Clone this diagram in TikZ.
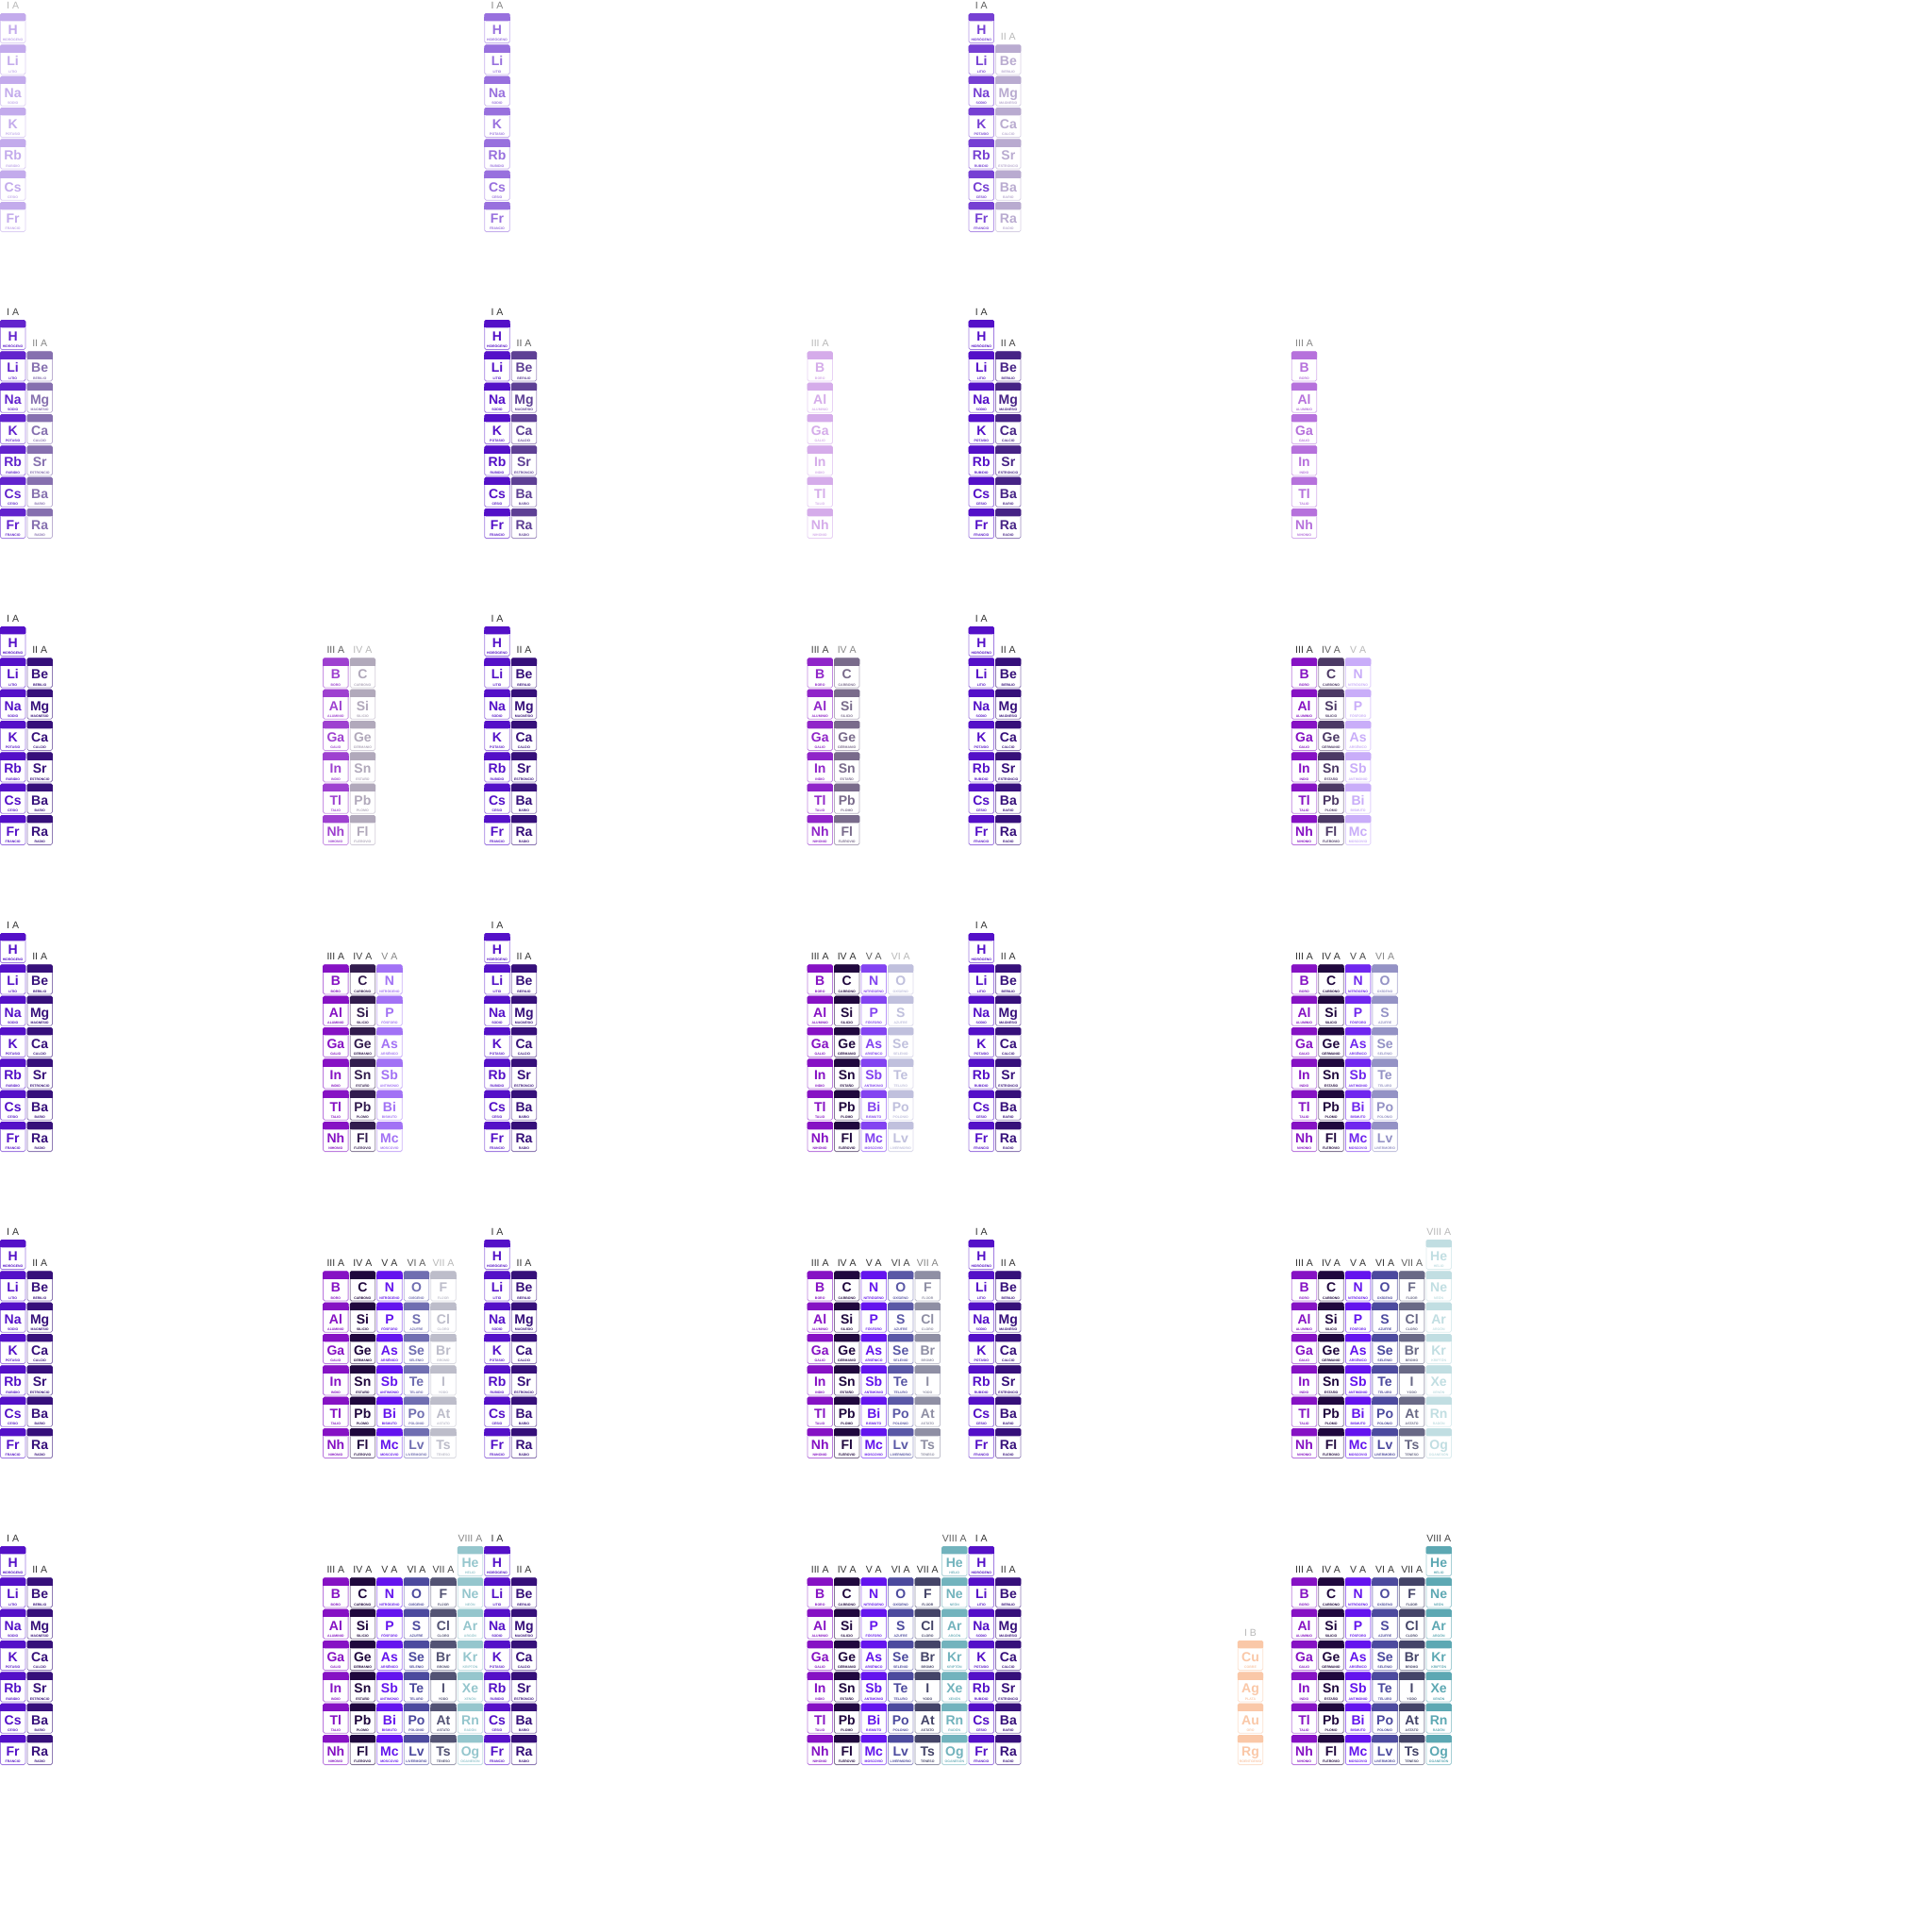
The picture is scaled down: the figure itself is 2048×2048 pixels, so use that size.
\documentclass[tikz,border=0pt]{standalone}
\usepackage{fontspec}
\setmainfont{Liberation Sans}
\definecolor{cIA}{HTML}{5410C8}
\definecolor{cIIA}{HTML}{36107A}
\definecolor{cIIIA}{HTML}{8612C4}
\definecolor{cIVA}{HTML}{20083E}
\definecolor{cVA}{HTML}{6414EE}
\definecolor{cVIA}{HTML}{4C4A9E}
\definecolor{cVIIA}{HTML}{444468}
\definecolor{cVIIIA}{HTML}{4FA0AC}
\definecolor{cIB}{HTML}{F16206}
\definecolor{labelgray}{HTML}{333333}
\def\listIA{H/HIDRÓGENO,Li/LITIO,Na/SODIO,K/POTASIO,Rb/RUBIDIO,Cs/CESIO,Fr/FRANCIO}
\def\listIIA{Be/BERILIO,Mg/MAGNESIO,Ca/CALCIO,Sr/ESTRONCIO,Ba/BARIO,Ra/RADIO}
\def\listIIIA{B/BORO,Al/ALUMINIO,Ga/GALIO,In/INDIO,Tl/TALIO,Nh/NIHONIO}
\def\listIVA{C/CARBONO,Si/SILICIO,Ge/GERMANIO,Sn/ESTAÑO,Pb/PLOMO,Fl/FLEROVIO}
\def\listVA{N/NITRÓGENO,P/FÓSFORO,As/ARSÉNICO,Sb/ANTIMONIO,Bi/BISMUTO,Mc/MOSCOVIO}
\def\listVIA{O/OXÍGENO,S/AZUFRE,Se/SELENIO,Te/TELURO,Po/POLONIO,Lv/LIVERMORIO}
\def\listVIIA{F/FLÚOR,Cl/CLORO,Br/BROMO,I/YODO,At/ASTATO,Ts/TENESO}
\def\listVIIIA{He/HELIO,Ne/NEÓN,Ar/ARGÓN,Kr/KRIPTÓN,Xe/XENÓN,Rn/RADÓN,Og/OGANESÓN}
\def\listIB{Cu/COBRE,Ag/PLATA,Au/ORO,Rg/ROENTGENIO}
\tikzset{
  grplabel/.style={anchor=base,inner sep=0pt,font=\fontsize{10.5}{10.5}\selectfont},
  symtext/.style={anchor=base,inner sep=0pt,font=\fontsize{14}{14}\selectfont\bfseries},
  nametext/.style={anchor=base,inner sep=0pt,font=\fontsize{3.5}{3.5}\selectfont\bfseries},
  cellbody/.style={draw=cb,fill=white,line width=0.8pt,rounded corners=1.6pt},
}
% #1 frame column, #2 frame row, #3 group column, #4 first period, #5 colour, #6 strength, #7 label, #8 list
\newcommand\grp[8]{%
  \pgfmathsetmacro\gx{#1*513.33+(#3-1)*28.52}%
  \pgfmathsetmacro\gy{#2*325+14+(#4-1)*33.333}%
  \colorlet{cc}{#5!#6}%
  \colorlet{cb}{cc!55}%
  \colorlet{lc}{labelgray!#6}%
  \node[grplabel,text=lc] (lab-#1-#2-#3) at (\gx+13.65,\gy-4.7) {#7};
  \foreach \s/\n [count=\i from 0] in #8 {
    \pgfmathsetmacro\cy{\gy+\i*33.333}
    \draw[cellbody] (\gx+0.4,\cy+0.4) rectangle ++(26.5,31.2);
    \fill[cc,rounded corners=1.6pt] (\gx,\cy) rectangle ++(27.3,8.3);
    \fill[cc] (\gx,\cy+4) rectangle ++(27.3,4.3);
    \node[symtext,text=cc] (sym-#1-#2-\s) at (\gx+13.65,\cy+22.5) {\s};
    \node[nametext,text=cc] (nm-#1-#2-\s) at (\gx+13.65,\cy+29.7) {\n};
  }%
}
\newcommand\drawIA[3]{\grp{#1}{#2}{1}{1}{cIA}{#3}{I A}{\listIA}}
\newcommand\drawIIA[3]{\grp{#1}{#2}{2}{2}{cIIA}{#3}{II A}{\listIIA}}
\newcommand\drawIIIA[3]{\grp{#1}{#2}{13}{2}{cIIIA}{#3}{III A}{\listIIIA}}
\newcommand\drawIVA[3]{\grp{#1}{#2}{14}{2}{cIVA}{#3}{IV A}{\listIVA}}
\newcommand\drawVA[3]{\grp{#1}{#2}{15}{2}{cVA}{#3}{V A}{\listVA}}
\newcommand\drawVIA[3]{\grp{#1}{#2}{16}{2}{cVIA}{#3}{VI A}{\listVIA}}
\newcommand\drawVIIA[3]{\grp{#1}{#2}{17}{2}{cVIIA}{#3}{VII A}{\listVIIA}}
\newcommand\drawVIIIA[3]{\grp{#1}{#2}{18}{1}{cVIIIA}{#3}{VIII A}{\listVIIIA}}
\newcommand\drawIB[3]{\grp{#1}{#2}{11}{4}{cIB}{#3}{I B}{\listIB}}
\begin{document}
\begin{tikzpicture}[x=1pt,y=-1pt]
\fill[white] (0,0) rectangle (2048,2048);
\useasboundingbox (0,0) rectangle (2048,2048);
% frame 1
\drawIA{0}{0}{35}
% frame 2
\drawIA{1}{0}{60}
% frame 3
\drawIA{2}{0}{80}\drawIIA{2}{0}{35}
% frame 4
\drawIA{0}{1}{92}\drawIIA{0}{1}{60}
% frame 5
\drawIA{1}{1}{100}\drawIIA{1}{1}{80}\drawIIIA{1}{1}{35}
% frame 6
\drawIA{2}{1}{100}\drawIIA{2}{1}{92}\drawIIIA{2}{1}{60}
% frame 7
\drawIA{0}{2}{100}\drawIIA{0}{2}{100}\drawIIIA{0}{2}{80}\drawIVA{0}{2}{35}
% frame 8
\drawIA{1}{2}{100}\drawIIA{1}{2}{100}\drawIIIA{1}{2}{92}\drawIVA{1}{2}{60}
% frame 9
\drawIA{2}{2}{100}\drawIIA{2}{2}{100}\drawIIIA{2}{2}{100}\drawIVA{2}{2}{80}\drawVA{2}{2}{35}
% frame 10
\drawIA{0}{3}{100}\drawIIA{0}{3}{100}\drawIIIA{0}{3}{100}\drawIVA{0}{3}{92}\drawVA{0}{3}{60}
% frame 11
\drawIA{1}{3}{100}\drawIIA{1}{3}{100}\drawIIIA{1}{3}{100}\drawIVA{1}{3}{100}\drawVA{1}{3}{80}\drawVIA{1}{3}{35}
% frame 12
\drawIA{2}{3}{100}\drawIIA{2}{3}{100}\drawIIIA{2}{3}{100}\drawIVA{2}{3}{100}\drawVA{2}{3}{92}\drawVIA{2}{3}{60}
% frame 13
\drawIA{0}{4}{100}\drawIIA{0}{4}{100}\drawIIIA{0}{4}{100}\drawIVA{0}{4}{100}\drawVA{0}{4}{100}\drawVIA{0}{4}{80}\drawVIIA{0}{4}{35}
% frame 14
\drawIA{1}{4}{100}\drawIIA{1}{4}{100}\drawIIIA{1}{4}{100}\drawIVA{1}{4}{100}\drawVA{1}{4}{100}\drawVIA{1}{4}{92}\drawVIIA{1}{4}{60}
% frame 15
\drawIA{2}{4}{100}\drawIIA{2}{4}{100}\drawIIIA{2}{4}{100}\drawIVA{2}{4}{100}\drawVA{2}{4}{100}\drawVIA{2}{4}{100}\drawVIIA{2}{4}{80}\drawVIIIA{2}{4}{35}
% frame 16
\drawIA{0}{5}{100}\drawIIA{0}{5}{100}\drawIIIA{0}{5}{100}\drawIVA{0}{5}{100}\drawVA{0}{5}{100}\drawVIA{0}{5}{100}\drawVIIA{0}{5}{92}\drawVIIIA{0}{5}{60}
% frame 17
\drawIA{1}{5}{100}\drawIIA{1}{5}{100}\drawIIIA{1}{5}{100}\drawIVA{1}{5}{100}\drawVA{1}{5}{100}\drawVIA{1}{5}{100}\drawVIIA{1}{5}{100}\drawVIIIA{1}{5}{80}
% frame 18
\drawIA{2}{5}{100}\drawIIA{2}{5}{100}\drawIIIA{2}{5}{100}\drawIVA{2}{5}{100}\drawVA{2}{5}{100}\drawVIA{2}{5}{100}\drawVIIA{2}{5}{100}\drawVIIIA{2}{5}{92}\drawIB{2}{5}{35}
\end{tikzpicture}
\end{document}
